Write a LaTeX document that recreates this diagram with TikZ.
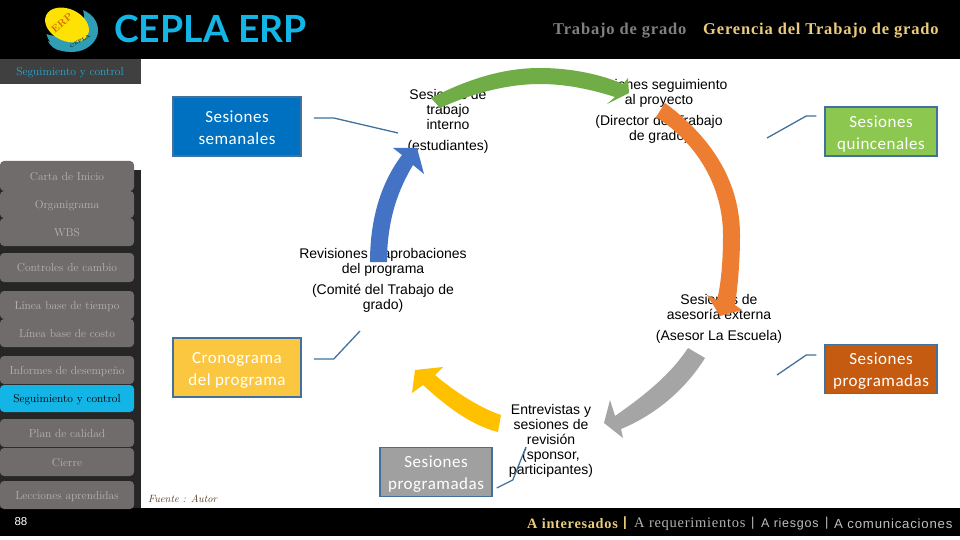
\documentclass[tikz,border=0pt]{standalone}
\usepackage{fontspec}
\newfontfamily\boxfont[LetterSpace=3]{Carlito}
\newfontfamily\cyclefont{Liberation Sans}
\newfontfamily\headfont[LetterSpace=5]{Liberation Serif}
\newfontfamily\logofont{Lato}
\newfontfamily\footfont[LetterSpace=6]{Liberation Sans}
\newcommand{\boxstrut}{\rule{0pt}{20.5pt}}
\definecolor{cepla}{HTML}{12B5E5}
\definecolor{teal}{HTML}{2E9DB5}
\definecolor{gold}{HTML}{EBCB7C}
\definecolor{btn}{HTML}{6F6C6B}
\definecolor{btntext}{HTML}{B5B2B0}
\definecolor{slate}{HTML}{41719C}
\definecolor{bluearrow}{HTML}{4472C4}
\definecolor{greenarrow}{HTML}{70AD47}
\definecolor{orangearrow}{HTML}{ED7D31}
\definecolor{greyarrow}{HTML}{A5A5A5}
\definecolor{yellowarrow}{HTML}{FFC000}
\definecolor{bluebox}{HTML}{0070C0}
\definecolor{yellowbox}{HTML}{FBC740}
\definecolor{greenbox}{HTML}{8CC850}
\definecolor{brownbox}{HTML}{C55A11}
\definecolor{greybox}{HTML}{A0A0A0}
\definecolor{fuente}{HTML}{5A3A1E}
\begin{document}
\begin{tikzpicture}[x=1pt, y=-1pt, inner sep=0pt,
  button/.style = {shape=rectangle, rounded corners=4pt, fill=btn, text=btntext,
    minimum width=134pt, text height=10pt, text depth=2pt, font=\fontsize{11.5}{13}\selectfont},
  session/.style = {shape=rectangle, draw=slate, line width=1.5pt, text=white, align=center,
    minimum width=#1, font=\boxfont\fontsize{17}{22}\selectfont},
  cycletext/.style = {align=center, text=black, font=\cyclefont\fontsize{14}{15}\selectfont},
  link/.style = {draw=slate, line width=1.3pt}]
  \useasboundingbox (0,0) rectangle (960,540);
  \fill[white] (0,0) rectangle (960,540);
  \fill[black] (0,0) rectangle (960,59);
  \fill[black] (0,508) rectangle (960,536);
  \fill[black!75] (0,59) rectangle (141,84);
  \fill[black!85] (0,170) rectangle (141,508);

  \fill[teal] (72,30) ellipse [x radius=26, y radius=22];
  \fill[black] (58,16) ellipse [x radius=26, y radius=20];
  \fill[teal] (48,41) .. controls (60,46) and (78,40) .. (92,28) -- (89,14) .. controls (97,20) and (100,32) .. (96,38)
    .. controls (90,48) and (72,54) .. (62,51) .. controls (55,50) and (50,46) .. (48,41) -- cycle;
  \fill[yellow!85!orange, rotate around={-25:(67,25)}] (67,25) ellipse [x radius=23, y radius=16];
  \node[rotate=40, text=orange!85!black, font=\fontsize{10}{10}\selectfont\bfseries] (logoerp) at (62,23) {ERP};
  \node[rotate=30, text=black!70!teal, font=\fontsize{4.5}{5}\selectfont\bfseries] (logocepla) at (80,41) {CEPLA};
  \node[anchor=west, text=cepla, font=\logofont\bfseries\fontsize{37.4}{38}\selectfont] (cepla) at (114,29) {CEPLA ERP};

  \node[anchor=west, text=black!50, font=\headfont\bfseries\fontsize{16.5}{18}\selectfont] (trabajo) at (553,31) {Trabajo de grado};
  \node[anchor=west, text=gold, font=\headfont\bfseries\fontsize{16.5}{18}\selectfont] (gerencia) at (703,31) {Gerencia del Trabajo de grado};
  \node[text=cepla!80!gray, font=\fontsize{11.5}{13}\selectfont] (fase) at (70,73) {Seguimiento y control};

  \node[button, minimum height=30] (carta) at (67,176) {Carta de Inicio};
  \node[button, minimum height=27] (organigrama) at (67,204.5) {Organigrama};
  \node[button, minimum height=28] (wbs) at (67,232) {WBS};
  \node[button, minimum height=29] (controles) at (67,267.5) {Controles de cambio};
  \node[button, minimum height=28] (tiempo) at (67,305) {Línea base de tiempo};
  \node[button, minimum height=28] (costo) at (67,333) {Línea base de costo};
  \node[button, minimum height=28] (informes) at (67,370) {Informes de desempeño};
  \node[button, minimum height=27, fill=cepla, text=black] (seguimiento) at (67,398.5) {Seguimiento y control};
  \node[button, minimum height=28] (plan) at (67,433) {Plan de calidad};
  \node[button, minimum height=28] (cierre) at (67,462) {Cierre};
  \node[button, minimum height=28] (lecciones) at (67,495) {Lecciones aprendidas};

  \node[session=128pt, minimum height=59, fill=bluebox] (semanales) at (237,126.5) {\boxstrut Sesiones\\\strut semanales};
  \node[session=128pt, minimum height=59, fill=yellowbox] (cronograma) at (237,367.5) {\boxstrut Cronograma\\\strut del programa};
  \node[session=112pt, minimum height=49, fill=greenbox] (quincenales) at (881,131.5) {\boxstrut Sesiones\\\strut quincenales};
  \node[session=112pt, minimum height=48, fill=brownbox] (externas) at (881,369) {\boxstrut Sesiones\\\strut programadas};
  \node[session=112pt, minimum height=48, fill=greybox] (revisiones) at (436,472) {\boxstrut Sesiones\\\strut programadas};

  \node[cycletext] (interno) at (448,121) {Sesiones de\\trabajo\\interno\\[6pt](estudiantes)};
  \node[cycletext] (director) at (659,111) {Sesiones seguimiento\\al proyecto\\[6pt](Director del Trabajo\\de grado)};
  \node[cycletext] (comite) at (383,280) {Revisiones y aprobaciones\\del programa\\[6pt](Comité del Trabajo de\\grado)};
  \node[cycletext] (asesor) at (719,319) {Sesiones de\\asesoría externa\\[6pt](Asesor La Escuela)};
  \node[cycletext] (sponsor) at (551,441) {Entrevistas y\\sesiones de\\revisión\\(sponsor,\\participantes)};

  \fill[bluearrow]
    (370,262) .. controls (370,215) and (383,180) .. (402,155) -- (393,148) -- (417,148) -- (424,174) -- (413,165)
    .. controls (398,190) and (387,220) .. (387,262) -- cycle;
  \fill[greenarrow]
    (431,98) .. controls (470,78) and (505,68) .. (540,68) .. controls (570,68) and (600,74) .. (623,84)
    -- (628,78) -- (629,93) -- (607,104) -- (615,97) .. controls (590,89) and (565,84) .. (540,84)
    .. controls (510,84) and (475,92) .. (440,108) -- cycle;
  \fill[orangearrow]
    (665,103) .. controls (715,140) and (740,185) .. (740,235) .. controls (740,260) and (738,285) .. (735,305)
    -- (742,310) -- (720,316) -- (707,295) -- (717,300) .. controls (722,280) and (723,255) .. (723,235)
    .. controls (723,190) and (700,145) .. (656,117) -- cycle;
  \fill[greyarrow]
    (688,348) .. controls (670,375) and (645,395) .. (615,416) -- (610,400) -- (604,423) -- (623,438) -- (621,429)
    .. controls (655,415) and (685,390) .. (705,358) -- cycle;
  \fill[yellowarrow]
    (501,415) .. controls (480,408) and (455,392) .. (435,375) -- (443,367) -- (415,370) -- (412,393) -- (423,385)
    .. controls (445,405) and (470,425) .. (498,432) -- cycle;

  \coordinate (internoend) at (398,133);
  \coordinate (cronogramaend) at (360,331);
  \coordinate (quincenalesend) at (767,138);
  \coordinate (externasend) at (777,375);
  \coordinate (revisionesend) at (526,447);
  \draw[link] ([xshift=12pt,yshift=8.5pt]semanales.east) -- ++(20,0) -- (internoend);
  \draw[link] ([xshift=12pt,yshift=8.5pt]cronograma.east) -- ++(20,0) -- (cronogramaend);
  \draw[link] ([xshift=-8pt,yshift=15.5pt]quincenales.west) -- ++(-10,0) -- (quincenalesend);
  \draw[link] ([xshift=-8pt,yshift=14pt]externas.west) -- ++(-10,0) -- (externasend);
  \draw[link] ([xshift=4pt,yshift=-16pt]revisiones.east) -- ++(16,-8) -- (revisionesend);

  \node[anchor=west, text=fuente, font=\itshape\fontsize{10.5}{13}\selectfont] (fuente) at (148,499) {Fuente : Autor};
  \node[text=white, font=\cyclefont\fontsize{11.5}{12}\selectfont] (pagina) at (21,522) {88};
  \node[anchor=west, text=gold, font=\headfont\bfseries\fontsize{14.3}{15}\selectfont] (interesados) at (527,524) {A interesados};
  \node[anchor=west, text=gold, font=\cyclefont\bfseries\fontsize{13.5}{15}\selectfont] (sepa) at (623,523) {|};
  \node[anchor=west, text=black!30, font=\headfont\fontsize{14.5}{15}\selectfont] (requerimientos) at (634,524) {A requerimientos};
  \node[anchor=west, text=black!25, font=\cyclefont\fontsize{13}{15}\selectfont] (sepb) at (751,523) {|};
  \node[anchor=west, text=black!25, font=\footfont\fontsize{12.5}{15}\selectfont] (riesgos) at (761,524) {A riesgos};
  \node[anchor=west, text=black!25, font=\cyclefont\fontsize{13}{15}\selectfont] (sepc) at (825,523) {|};
  \node[anchor=west, text=black!25, font=\footfont\fontsize{13.2}{15}\selectfont] (comunicaciones) at (834,524) {A comunicaciones};
\end{tikzpicture}
\end{document}
